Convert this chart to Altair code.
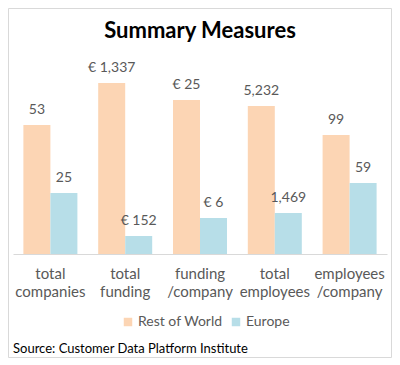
import altair as alt
import pandas as pd

categories = ["total companies", "total funding", "funding /company", "total employees", "employees /company"]
series = ["Rest of World", "Europe"]
row_labels = ["53", "€ 1,337", "€ 25", "5,232", "99"]
eu_labels = ["25", "€ 152", "€ 6", "1,469", "59"]
# relative bar heights (each measure drawn on its own normalised scale)
row_heights = [129, 171, 154, 148, 119]
eu_heights = [61, 18, 36, 41, 71]
colors = ["#FCD5B4", "#B7DEE8"]
source_text = "Source: Customer Data Platform Institute"
title_text = "Summary Measures"

rows = []
for i, c in enumerate(categories):
    rows.append({"cat": c, "series": series[0], "h": row_heights[i], "label": row_labels[i]})
    rows.append({"cat": c, "series": series[1], "h": eu_heights[i], "label": eu_labels[i]})
df = pd.DataFrame(rows)

FONT = "Lato"
GREY = "#595959"

x = alt.X("cat:N", sort=categories, title=None,
          scale=alt.Scale(paddingInner=0.278, paddingOuter=0.139),
          axis=alt.Axis(labelExpr="split(datum.label, ' ')", labelAngle=0, ticks=False,
                        domainColor="#D9D9D9", labelColor=GREY, labelFontSize=15,
                        labelFont=FONT, labelPadding=12, labelLineHeight=18,
                        labelBaseline="top"))
y = alt.Y("h:Q", axis=None, scale=alt.Scale(domain=[0, 194], nice=False, zero=True))
xo = alt.XOffset("series:N", sort=series)

base = alt.Chart(df)
bars = base.mark_bar().encode(
    x=x, y=y, xOffset=xo,
    color=alt.Color("series:N", sort=series,
                    scale=alt.Scale(domain=series, range=colors),
                    legend=alt.Legend(title=None, orient="none", direction="horizontal",
                                      legendX=108, legendY=255, symbolType="square",
                                      symbolSize=72, symbolStrokeWidth=0,
                                      labelFont=FONT, labelFontSize=14, labelColor=GREY,
                                      labelOffset=3, columnPadding=6)),
)
texts = base.mark_text(baseline="middle", dy=-15, font=FONT, fontSize=14, color=GREY).encode(
    x=x, y=y, xOffset=xo, text="label:N"
)
source = alt.Chart(pd.DataFrame({"t": [source_text]})).mark_text(
    align="left", baseline="alphabetic", font=FONT, fontSize=13, color="#000000"
).encode(x=alt.value(0), y=alt.value(293), text="t:N")
title = alt.Chart(pd.DataFrame({"t": [title_text]})).mark_text(
    align="center", baseline="middle", font=FONT, fontSize=22, fontWeight="bold", color="#000000"
).encode(x=alt.value(187), y=alt.value(-29), text="t:N")
frame = alt.Chart(pd.DataFrame({"t": [0]})).mark_rect(
    fill=None, stroke="#D9D9D9", strokeWidth=1
).encode(x=alt.value(-4.5), x2=alt.value(378.5), y=alt.value(-51.5), y2=alt.value(297.5))

chart = alt.layer(bars, texts, source, title, frame).properties(
    width=374, height=194,
    autosize=alt.AutoSizeParams(type="none"),
    padding={"left": 5, "top": 52, "right": 5, "bottom": 104},
    background="white",
).configure_view(stroke=None)

chart.save("out.html", embed_options={"renderer": "svg", "actions": False})
